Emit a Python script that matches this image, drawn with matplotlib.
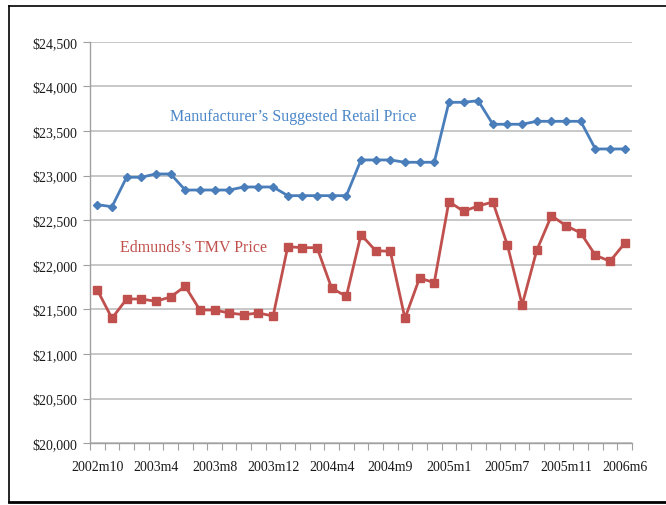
import matplotlib
matplotlib.use("Agg")
import matplotlib.pyplot as plt
from matplotlib.ticker import FuncFormatter, FixedLocator
from matplotlib.lines import Line2D

months = ["2002m10", "2002m12", "2003m1", "2003m2", "2003m4", "2003m5", "2003m6", "2003m7",
          "2003m8", "2003m9", "2003m10", "2003m11", "2003m12", "2004m1", "2004m2", "2004m3",
          "2004m4", "2004m5", "2004m6", "2004m8", "2004m9", "2004m10", "2004m11", "2004m12",
          "2005m1", "2005m2", "2005m4", "2005m5", "2005m7", "2005m8", "2005m9", "2005m10",
          "2005m11", "2006m1", "2006m3", "2006m5", "2006m6"]

msrp = [22674, 22651, 22981, 22981, 23018, 23018, 22838, 22838, 22838, 22838,
        22872, 22872, 22872, 22775, 22775, 22775, 22775, 22775, 23175, 23175,
        23175, 23149, 23149, 23149, 23821, 23821, 23839, 23575, 23575, 23575,
        23608, 23608, 23608, 23608, 23298, 23298, 23298]

tmv = [21718, 21400, 21617, 21617, 21591, 21640, 21759, 21494, 21494, 21460,
       21441, 21460, 21426, 22203, 22192, 22192, 21737, 21647, 22338, 22158,
       22151, 21400, 21852, 21800, 22708, 22600, 22659, 22704, 22219, 21550,
       22163, 22550, 22438, 22357, 22107, 22040, 22241]

y_ticks = [20000, 20500, 21000, 21500, 22000, 22500, 23000, 23500, 24000, 24500]

blue = "#4a7ebb"
red = "#c0504d"
serif = ["Liberation Serif", "DejaVu Serif"]

fig = plt.figure(figsize=(6.66, 5.06), dpi=100)
ax = fig.add_axes([90/666, 1-444.3/506, (632-90)/666, (444.3-42.7)/506])

x = list(range(len(months)))
ax.plot(x, msrp, color=blue, lw=2, marker="D", ms=4, mfc=blue, mec=blue, zorder=3)
ax.plot(x, tmv, color=red, lw=2, marker="s", ms=6, mfc=red, mec=red, zorder=3)

ax.set_xlim(-0.5, len(months) - 0.5)
ax.set_ylim(y_ticks[0], y_ticks[-1])
ax.set_yticks(y_ticks)
ax.yaxis.set_major_formatter(FuncFormatter(lambda v, p: "${:,.0f}".format(v)))
ax.grid(axis="y", color="#c4c4c4", lw=1.3)
ax.set_axisbelow(True)

# x ticks at category boundaries, labels every 4th category
ax.xaxis.set_major_locator(FixedLocator([i - 0.5 for i in range(len(months) + 1)]))
ax.xaxis.set_major_formatter(FuncFormatter(lambda v, p: ""))
lab_idx = list(range(0, len(months), 4))
ax.xaxis.set_minor_locator(FixedLocator(lab_idx))
ax.set_xticklabels([months[i] for i in lab_idx], minor=True)
ax.tick_params(axis="x", which="major", length=5, color="#a0a0a0", direction="out")
ax.tick_params(axis="x", which="minor", length=0, pad=12)
ax.tick_params(axis="y", length=5, color="#a0a0a0", direction="out", pad=4)
for lbl in ax.get_xticklabels(minor=True) + ax.get_yticklabels():
    lbl.set_fontfamily(serif)
    lbl.set_fontsize(10)
    lbl.set_color("#1a1a1a")

for s in ["top", "right"]:
    ax.spines[s].set_visible(False)
for s in ["left", "bottom"]:
    ax.spines[s].set_color("#a0a0a0")
    ax.spines[s].set_linewidth(1.0)

ax.text(0.147, 0.816, "Manufacturer\u2019s Suggested Retail Price", transform=ax.transAxes,
        color="#4a86c8", fontsize=11.5, family=serif, va="center", ha="left")
ax.text(0.055, 0.49, "Edmunds\u2019s TMV Price", transform=ax.transAxes,
        color="#c0504d", fontsize=11.5, family=serif, va="center", ha="left")

# outer frame
W, H = 666, 506
fig.add_artist(Line2D([9/W, 9/W], [1-7/H, 1-503/H], color="black", lw=1.2, transform=fig.transFigure))
fig.add_artist(Line2D([9/W, 1.0], [1-7/H, 1-7/H], color="black", lw=1.2, transform=fig.transFigure))
fig.add_artist(Line2D([9/W, 1.0], [1-503/H, 1-503/H], color="black", lw=2, transform=fig.transFigure))

fig.savefig("out.png", dpi=100)
